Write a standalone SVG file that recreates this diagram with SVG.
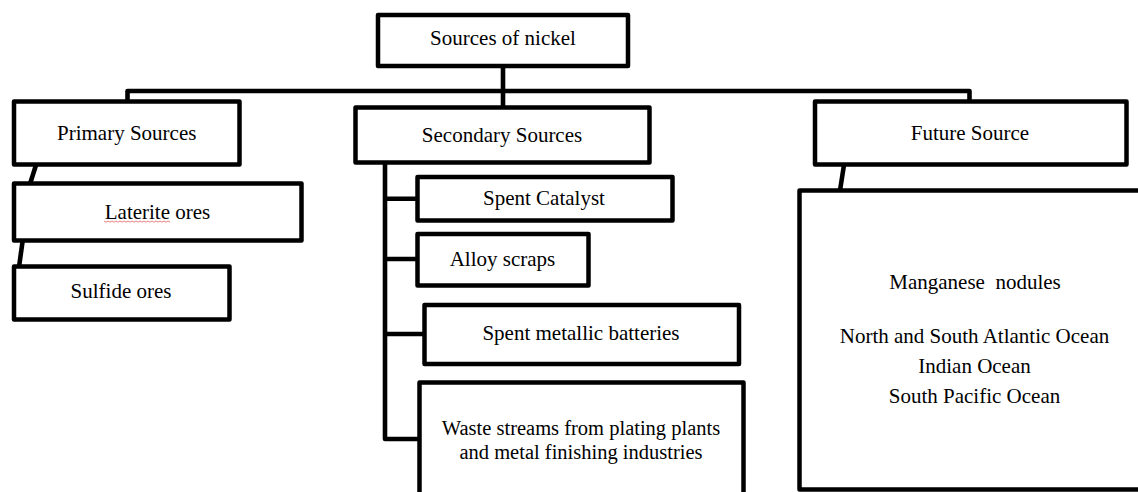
<svg xmlns="http://www.w3.org/2000/svg" width="1138" height="492" viewBox="0 0 1138 492">
<style>
.box{fill:#fff;stroke:#000;stroke-width:4.5;stroke-linejoin:round}
.lbl{font-family:"Liberation Serif","Times New Roman",serif;font-size:21px;fill:#000;text-anchor:middle}
.sm{font-size:20.5px}
.con{fill:none;stroke:#000;stroke-width:4.6;stroke-linejoin:round;stroke-linecap:butt}
</style>
<rect width="1138" height="492" fill="#fff"/>
<g id="connectors">
<path class="con" d="M503,66 V107.5"/>
<path class="con" d="M127.5,101.5 V91 H969.5 V101.5"/>
<path class="con" d="M36,165 L30,184"/>
<path class="con" d="M22.5,242 L19,267"/>
<path class="con" d="M385,163 V439 H419.5"/>
<path class="con" d="M385,198.7 H417.5"/>
<path class="con" d="M385,259 H417.5"/>
<path class="con" d="M385,334 H424.5"/>
<path class="con" d="M844,165 L840,190.5"/>
</g>
<g id="root">
<rect class="box" x="378" y="15" width="250" height="51"/>
<text class="lbl" x="503" y="45">Sources of nickel</text>
</g>
<g id="primary">
<rect class="box" x="14" y="101.5" width="225.5" height="63"/>
<text class="lbl" x="126.7" y="140">Primary Sources</text>
</g>
<g id="secondary">
<rect class="box" x="355.5" y="107.5" width="294" height="55"/>
<text class="lbl" x="502" y="141.5">Secondary Sources</text>
</g>
<g id="future">
<rect class="box" x="815" y="101.5" width="311.5" height="63"/>
<text class="lbl" x="970" y="139.5">Future Source</text>
</g>
<g id="laterite">
<rect class="box" x="14" y="183.5" width="287.5" height="57"/>
<text class="lbl" x="157.5" y="219">Laterite ores</text>
<polyline points="104,221 106,222.2 108,221 110,222.2 112,221 114,222.2 116,221 118,222.2 120,221 122,222.2 124,221 126,222.2 128,221 130,222.2 132,221 134,222.2 136,221 138,222.2 140,221 142,222.2 144,221 146,222.2 148,221 150,222.2 152,221 154,222.2 156,221 158,222.2 160,221 162,222.2 164,221 166,222.2 168,221 170,222.2" fill="none" stroke="#e06060" stroke-width="0.8"/>
</g>
<g id="sulfide">
<rect class="box" x="14" y="266.5" width="215.5" height="53"/>
<text class="lbl" x="121" y="298">Sulfide ores</text>
</g>
<g id="catalyst">
<rect class="box" x="417.5" y="177" width="255" height="43.5"/>
<text class="lbl" x="544" y="205">Spent Catalyst</text>
</g>
<g id="alloy">
<rect class="box" x="417.5" y="234" width="171" height="51.5"/>
<text class="lbl" x="502.5" y="266">Alloy scraps</text>
</g>
<g id="batteries">
<rect class="box" x="424.5" y="305" width="314.5" height="59"/>
<text class="lbl" x="581" y="340">Spent metallic batteries</text>
</g>
<g id="waste">
<rect class="box" x="419.5" y="382.5" width="324" height="130"/>
<text class="lbl sm" x="581" y="434.5">Waste streams from plating plants</text>
<text class="lbl sm" x="581" y="458.5">and metal finishing industries</text>
</g>
<g id="nodules">
<rect class="box" x="799.5" y="190.5" width="400" height="299"/>
<text class="lbl" x="975" y="288.5" xml:space="preserve">Manganese  nodules</text>
<text class="lbl" x="974.5" y="342.5">North and South Atlantic Ocean</text>
<text class="lbl" x="974.5" y="373">Indian Ocean</text>
<text class="lbl" x="974.5" y="403">South Pacific Ocean</text>
</g>
</svg>
